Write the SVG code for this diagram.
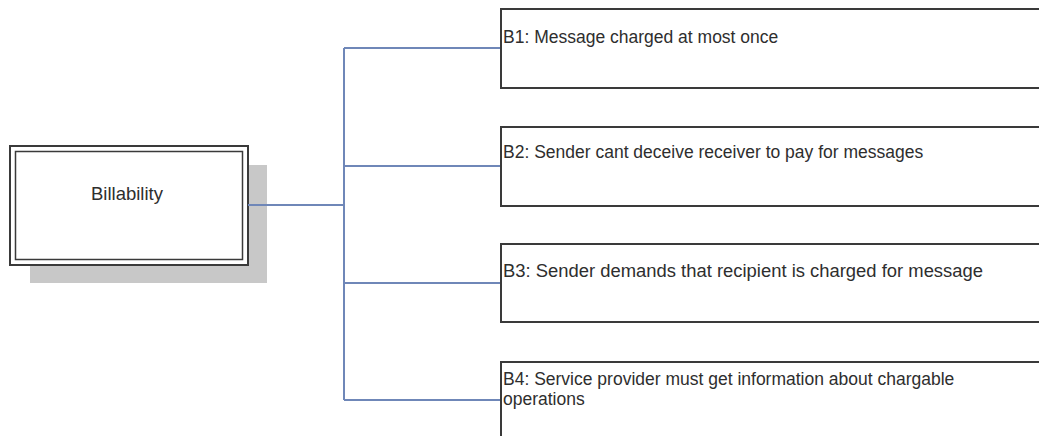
<svg xmlns="http://www.w3.org/2000/svg" width="1039" height="436" viewBox="0 0 1039 436">
<style>
.box{fill:#fff;stroke:#3a3a3a;stroke-width:2}
.t{font-family:"Liberation Sans",Arial,sans-serif;font-size:17.5px;fill:#2e2e2e}
.c{fill:none;stroke:#6f87b8;stroke-width:2}
</style>
<rect width="1039" height="436" fill="#fff"/>
<g id="billability">
<rect x="30" y="165" width="237" height="118" fill="#c8c8c8"/>
<rect x="10" y="146" width="238" height="119" fill="#fff" stroke="#3a3a3a" stroke-width="2"/>
<rect x="15.5" y="151.5" width="227" height="108" fill="none" stroke="#3a3a3a" stroke-width="1.5"/>
<text class="t" x="127" y="200" text-anchor="middle" style="font-size:18.5px">Billability</text>
</g>
<g id="connectors">
<path class="c" d="M248 205H344M344 48V400M344 48H501M344 166H501M344 283H501M344 400H501"/>
</g>
<g id="b1">
<rect class="box" x="501" y="9" width="560" height="79"/>
<text class="t" x="503" y="43">B1: Message charged at most once</text>
</g>
<g id="b2">
<rect class="box" x="501" y="127" width="560" height="79"/>
<text class="t" x="503" y="158">B2: Sender cant deceive receiver to pay for messages</text>
</g>
<g id="b3">
<rect class="box" x="501" y="244" width="560" height="78"/>
<text class="t" x="503" y="277" textLength="480" lengthAdjust="spacingAndGlyphs">B3: Sender demands that recipient is charged for message</text>
</g>
<g id="b4">
<rect class="box" x="501" y="362" width="560" height="90"/>
<text class="t" x="503" y="385">B4: Service provider must get information about chargable</text>
<text class="t" x="503" y="405">operations</text>
</g>
</svg>
